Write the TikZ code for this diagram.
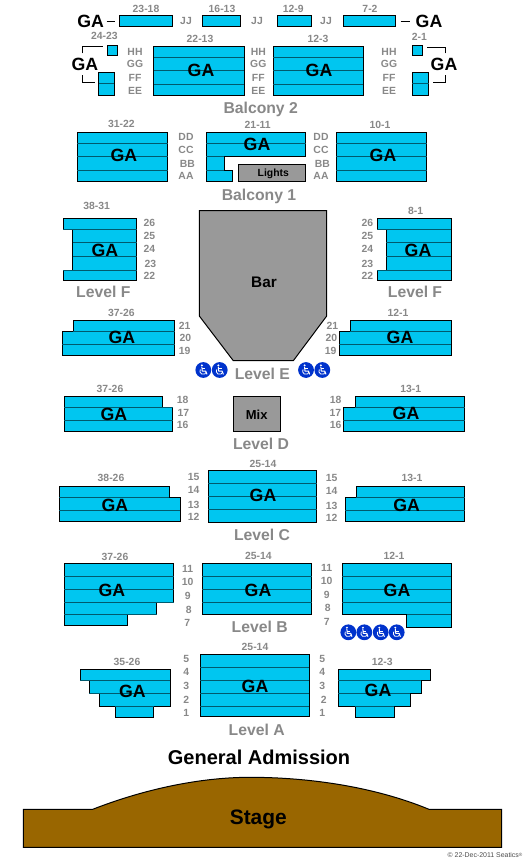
\documentclass[tikz,border=0pt]{standalone}
\usepackage{fontspec}
\usepackage{xcolor}
\setmainfont{Liberation Sans}
\definecolor{assento}{RGB}{0,198,240}
\definecolor{fileira}{RGB}{0,90,110}
\definecolor{rotulo}{RGB}{136,136,136}
\definecolor{cinza}{RGB}{153,153,153}
\definecolor{palco}{RGB}{153,102,0}
\definecolor{cadeira}{RGB}{0,51,204}
\tikzset{
    bloco/.style={fill=assento, draw=black, line width=0.75pt},
    fila/.style={draw=fileira, line width=0.5pt},
    cinzabox/.style={fill=cinza, draw=black, line width=0.75pt},
    marca/.style={draw=black, line width=0.6pt},
    ganode/.style={inner sep=0pt, font=\bfseries\fontsize{13.3}{14}\selectfont},
    rownode/.style={inner sep=0pt, text=rotulo, font=\bfseries\fontsize{7.8}{9}\selectfont},
    levelnode/.style={inner sep=0pt, text=rotulo, font=\bfseries\fontsize{11.8}{13}\selectfont},
    cadeirante/.pic={
        \fill[cadeira] (0,0) circle (7.9);
        \fill[white] (-1.4,-4.6) circle (1.1);
        \draw[white, line width=0.75pt, line join=round] (-1.4,-3.2) -- (-1.1,1) -- (2.4,1) -- (3.7,4.4);
        \draw[white, line width=0.6pt] (-1.3,-1.2) -- (1.8,-1.2);
        \draw[white, line width=0.6pt] (-3.0,-0.6) arc[start angle=-150, end angle=-340, radius=3.3];
    },
}
\begin{document}
\begin{tikzpicture}[x=0.75pt, y=-0.75pt]
    \useasboundingbox (0,0) rectangle (525,862);
    % Balcony 2, row JJ
    \foreach \xa/\xb in {119.3/172.3,202.3/240.7,277.3/311.7,343.3/395.7} {
        \draw[bloco] (\xa,16) rectangle (\xb,26.3);
    }
    \draw[marca] (106.7,21.5) -- (114.7,21.5);
    \draw[marca] (400.7,21.5) -- (410,21.5);
    \draw[marca] (82.3,53.3) -- (82.3,46.7) -- (103.3,46.7);
    \draw[marca] (82.3,75.3) -- (82.3,82.3) -- (94.7,82.3);
    \draw[marca] (445.7,53.3) -- (445.7,47.3) -- (427.3,47.3);
    \draw[marca] (445.7,75.3) -- (445.7,82.3) -- (433,82.3);
    % Balcony 2, rows EE-HH
    \draw[bloco] (107.3,45.3) rectangle (117.7,55.7);
    \draw[bloco] (412.3,45.3) rectangle (422.7,55.7);
    \draw[bloco] (98.7,72.3) rectangle (114.3,95.3);
    \draw[bloco] (412.3,72.3) rectangle (428.7,95.3);
    \draw[fila] (98.7,83.3) -- (114.3,83.3);
    \draw[fila] (412.3,83.3) -- (428.7,83.3);
    \draw[bloco] (153.7,46.3) rectangle (244.3,95.3);
    \draw[bloco] (273.3,46.3) rectangle (363.3,95.3);
    \foreach \y in {57.7,70.7,84.7} {
        \draw[fila] (153.7,\y) -- (244.3,\y);
        \draw[fila] (273.3,\y) -- (363.3,\y);
    }
    % Balcony 1
    \draw[bloco] (77.3,132.3) rectangle (167.7,181.3);
    \draw[bloco] (336.3,132.3) rectangle (426.7,181.3);
    \foreach \y in {143.3,156.7,170.3} {
        \draw[fila] (77.3,\y) -- (167.7,\y);
        \draw[fila] (336.3,\y) -- (426.7,\y);
    }
    \draw[bloco] (206.3,132.3) -- (305.7,132.3) -- (305.7,156.3) -- (224.3,156.3) -- (224.3,170.3) -- (232.3,170.3) -- (232.3,181.3) -- (206.3,181.3) -- cycle;
    \draw[fila] (206.3,143.3) -- (305.7,143.3);
    \draw[fila] (206.3,156.3) -- (224.3,156.3);
    \draw[fila] (206.3,170.3) -- (224.3,170.3);
    \draw[cinzabox] (238.3,164.3) rectangle (305.7,181.3);
    % Level F
    \draw[bloco] (63.3,218.3) -- (136.7,218.3) -- (136.7,280.3) -- (63.3,280.3) -- (63.3,270.3) -- (72.7,270.3) -- (72.7,229.7) -- (63.3,229.7) -- cycle;
    \draw[bloco] (377.3,218.3) -- (451.3,218.3) -- (451.3,280.3) -- (377.3,280.3) -- (377.3,270.3) -- (386.3,270.3) -- (386.3,229.7) -- (377.3,229.7) -- cycle;
    \draw[fila] (63.3,229.7) -- (136.7,229.7);
    \draw[fila] (63.3,270.3) -- (136.7,270.3);
    \draw[fila] (377.3,229.7) -- (451.3,229.7);
    \draw[fila] (377.3,270.3) -- (451.3,270.3);
    \foreach \y in {242.7,256.7} {
        \draw[fila] (72.7,\y) -- (136.7,\y);
        \draw[fila] (386.3,\y) -- (451.3,\y);
    }
    % Bar
    \draw[cinzabox] (199.3,210.7) -- (326.7,210.7) -- (326.7,316) -- (293.3,360.7) -- (233.3,360.7) -- (199.3,316) -- cycle;
    % Level E
    \draw[bloco] (73.3,320.3) -- (174.7,320.3) -- (174.7,355.3) -- (62.3,355.3) -- (62.3,331.3) -- (73.3,331.3) -- cycle;
    \draw[bloco] (350.3,320.3) -- (451.3,320.3) -- (451.3,355.3) -- (339.3,355.3) -- (339.3,331.3) -- (350.3,331.3) -- cycle;
    \draw[fila] (73.3,331.3) -- (174.7,331.3);
    \draw[fila] (62.3,344.3) -- (174.7,344.3);
    \draw[fila] (350.3,331.3) -- (451.3,331.3);
    \draw[fila] (339.3,344.3) -- (451.3,344.3);
    \foreach \x/\y in {203.3/370,219.7/370,306/370,322.3/370,348.3/632.3,364.3/632.3,380.7/632.3,396.7/632.3} {
        \pic at (\x,\y) {cadeirante};
    }
    % Level D
    \draw[bloco] (64.3,396.3) -- (162.7,396.3) -- (162.7,407.3) -- (172.7,407.3) -- (172.7,431.3) -- (64.3,431.3) -- cycle;
    \draw[bloco] (355.3,396.3) -- (464.7,396.3) -- (464.7,431.3) -- (343.3,431.3) -- (343.3,407.3) -- (355.3,407.3) -- cycle;
    \draw[fila] (64.3,407.3) -- (172.7,407.3);
    \draw[fila] (64.3,420.3) -- (172.7,420.3);
    \draw[fila] (355.3,407.3) -- (464.7,407.3);
    \draw[fila] (343.3,420.3) -- (464.7,420.3);
    \draw[cinzabox] (233.3,396.3) rectangle (280.7,431.3);
    % Level C
    \draw[bloco] (208.3,470.3) rectangle (316.7,522.3);
    \foreach \y in {483.3,496.7,509.7} {
        \draw[fila] (208.3,\y) -- (316.7,\y);
    }
    \draw[bloco] (59.3,486.3) -- (169.3,486.3) -- (169.3,497.3) -- (180.3,497.3) -- (180.3,521.3) -- (59.3,521.3) -- cycle;
    \draw[bloco] (356.3,486.3) -- (464.7,486.3) -- (464.7,521.3) -- (345.3,521.3) -- (345.3,497.3) -- (356.3,497.3) -- cycle;
    \draw[fila] (59.3,497.3) -- (169.3,497.3);
    \draw[fila] (59.3,510.3) -- (180.3,510.3);
    \draw[fila] (356.3,497.3) -- (464.7,497.3);
    \draw[fila] (345.3,510.3) -- (464.7,510.3);
    % Level B
    \draw[bloco] (64.3,563.3) -- (173.7,563.3) -- (173.7,602.7) -- (156.7,602.7) -- (156.7,614.3) -- (127.3,614.3) -- (127.3,625.3) -- (64.3,625.3) -- cycle;
    \draw[bloco] (202.3,563.3) rectangle (311.7,614.3);
    \draw[bloco] (342.3,563.3) -- (451.3,563.3) -- (451.3,627.3) -- (406.7,627.3) -- (406.7,614.3) -- (342.3,614.3) -- cycle;
    \foreach \y in {576.3,589.3,602.7} {
        \draw[fila] (64.3,\y) -- (173.7,\y);
        \draw[fila] (202.3,\y) -- (311.7,\y);
        \draw[fila] (342.3,\y) -- (451.3,\y);
    }
    \draw[fila] (64.3,614.3) -- (156.7,614.3);
    \draw[fila] (406.7,614.3) -- (451.3,614.3);
    % Level A
    \draw[bloco] (200.3,654.3) rectangle (309.3,716.7);
    \foreach \y in {667.3,680.3,693.3,706.3} {
        \draw[fila] (200.3,\y) -- (309.3,\y);
    }
    \draw[bloco] (80.3,669.3) -- (170.3,669.3) -- (170.3,706.3) -- (153.7,706.3) -- (153.7,717.3) -- (115.3,717.3) -- (115.3,706.3) -- (99.3,706.3) -- (99.3,693.3) -- (89.3,693.3) -- (89.3,680.3) -- (80.3,680.3) -- cycle;
    \draw[bloco] (338.3,669.3) -- (430.3,669.3) -- (430.3,680.3) -- (421.3,680.3) -- (421.3,693.3) -- (410.3,693.3) -- (410.3,706.3) -- (394.3,706.3) -- (394.3,717.3) -- (355.3,717.3) -- (355.3,706.3) -- (338.3,706.3) -- cycle;
    \draw[fila] (80.3,680.3) -- (170.3,680.3);
    \draw[fila] (89.3,693.3) -- (170.3,693.3);
    \draw[fila] (115.3,706.3) -- (153.7,706.3);
    \draw[fila] (338.3,680.3) -- (421.3,680.3);
    \draw[fila] (338.3,693.3) -- (410.3,693.3);
    \draw[fila] (355.3,706.3) -- (394.3,706.3);
    % Stage
    \draw[fill=palco, draw=black, line width=0.75pt] (23.3,809.3) -- (92.7,809.3) .. controls (150,787) and (205,777.3) .. (250,777.3) .. controls (310,777.3) and (375,787) .. (429,809.3) -- (501.7,809.3) -- (501.7,847.3) -- (23.3,847.3) -- cycle;
    % GA labels
    \foreach \x/\y [count=\n] in {90.7/21.7,429/21.7,85/64,444/64,201/70.7,319/70.7,124/155.7,257/144.3,383/155.7,105/250,418/250,122/337.7,400/337.7,114/414,406/413.3,263/495.7,115/505,406.7/505,112/590.3,258/590.3,397/590.3,255/686.7,132.3/691,378/690} {
        \node[ganode] (ga\n) at (\x,\y) {GA};
    }
    % seat ranges
    \foreach \x/\y/\t [count=\n] in {146/9.3/23-18,222/9.3/16-13,293.3/9.3/12-9,370/9.3/7-2,104.3/36/24-23,200/39/22-13,318/39/12-3,419.3/36.7/2-1,121.3/124.3/31-22,257.7/125/21-11,380/125/10-1,96.7/206/38-31,415.7/211/8-1,121.3/313.3/37-26,398/313.3/12-1,110/389.3/37-26,410.7/389.3/13-1,263/464.3/25-14,111/478.3/38-26,412/478.3/13-1,115/557.3/37-26,258.3/556.3/25-14,394/556.3/12-1,255/647.3/25-14,127/662.3/35-26,382.3/662.3/12-3} {
        \node[rownode] (faixa\n) at (\x,\y) {\t};
    }
    % row names
    \foreach \x/\y/\t [count=\n] in {186/21/JJ,257/21/JJ,326/21/JJ,
        135/52.3/HH,135/64/GG,135/77.7/FF,135/91/EE,258.3/52.3/HH,258.3/64/GG,258.3/77.7/FF,258.3/91/EE,389/52.3/HH,389/64/GG,389/77.7/FF,389/91/EE,
        186/137.3/DD,186/150/CC,187.3/164/BB,186/176.3/AA,321/137.3/DD,321/150/CC,322.3/164/BB,321/176.3/AA,
        149.3/223.3/26,149.3/236.3/25,149.3/249.3/24,150.3/264/23,149.3/276.3/22,367.3/223.3/26,367.3/236.3/25,367.3/249.3/24,367.3/264/23,367.3/276.3/22,
        184.7/326.3/21,185.3/338.3/20,184.7/351.3/19,332.3/326.3/21,331.3/338.3/20,330.7/351.3/19,
        182.7/400.3/18,183.3/413.3/17,182.7/425.3/16,335.7/400.3/18,335.3/413.3/17,335.7/425.3/16,
        193.7/477.3/15,193.7/490.3/14,193.7/505.3/13,193.7/517.3/12,331.7/478.3/15,331.7/491.3/14,331.7/506.3/13,331.7/518.3/12,
        187.7/569.3/11,187.7/582.3/10,187.7/596.3/9,188.7/610.3/8,187.3/623/7,326.7/568.3/11,326.7/581.3/10,326.7/595.3/9,327.7/608.3/8,326.7/622/7,
        186.3/659.3/5,186.3/672.3/4,186.3/685.7/3,186.3/700/2,186.3/713/1,322.3/659.3/5,322.3/672.3/4,322.3/685.7/3,323.7/700/2,322.3/713/1} {
        \node[rownode] (fila\n) at (\x,\y) {\t};
    }
    % level names
    \foreach \x/\y/\t [count=\n] in {260.7/109.3/Balcony 2,259/196.3/Balcony 1,103.3/291.7/Level F,415/291.7/Level F,262.3/374/Level E,261/444/Level D,262/535/Level C,259.7/626.7/Level B,256.7/729.7/Level A} {
        \node[levelnode] (nivel\n) at (\x,\y) {\t};
    }
    \node[inner sep=0pt, font=\bfseries\fontsize{7.8}{9}\selectfont] (luzes) at (273.3,174.3) {Lights};
    \node[inner sep=0pt, font=\bfseries\fontsize{11.5}{13}\selectfont] (bar) at (264,282.5) {Bar};
    \node[inner sep=0pt, font=\bfseries\fontsize{9.75}{11}\selectfont] (mesa) at (256.7,414.3) {Mix};
    \node[inner sep=0pt, font=\bfseries\fontsize{15}{17}\selectfont] (geral) at (259,757) {General Admission};
    \node[inner sep=0pt, font=\bfseries\fontsize{15.7}{17}\selectfont] (palco) at (258.3,819) {Stage};
    \node[inner sep=0pt, text=black!70, font=\fontsize{5.2}{6}\selectfont] (direitos) at (485,855) {© 22-Dec-2011 Seatics\raisebox{1pt}{\fontsize{3.5}{4}\selectfont ®}};
\end{tikzpicture}
\end{document}
